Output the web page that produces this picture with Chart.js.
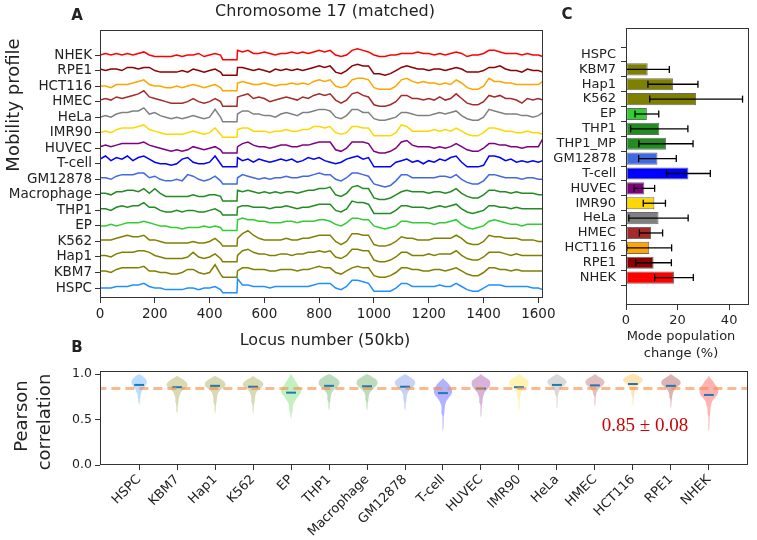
<!DOCTYPE html>
<html>
<head>
<meta charset="utf-8">
<script src="https://cdn.jsdelivr.net/npm/chart.js@4.4.1/dist/chart.umd.min.js"></script>
<style>
body{margin:0;background:#fff;width:757px;height:540px;position:relative;overflow:hidden;font-family:'DejaVu Sans',sans-serif;color:#222}
canvas{position:absolute}
.t{position:absolute;white-space:nowrap;transform:translate(-50%,-50%);line-height:1}
.rot{transform:translate(-50%,-50%) rotate(-90deg)}
.lbl{font-weight:bold;font-size:15px}
</style>
</head>
<body>
<canvas id="chartA" width="560" height="345" style="left:0;top:0"></canvas>
<canvas id="chartC" width="212" height="330" style="left:545px;top:0"></canvas>
<canvas id="chartB" width="757" height="185" style="left:0;top:355px"></canvas>

<div class="t lbl" style="left:77px;top:15px">A</div>
<div class="t lbl" style="left:567px;top:14px">C</div>
<div class="t lbl" style="left:77px;top:347px">B</div>
<div class="t" style="left:325px;top:11px;font-size:16px">Chromosome 17 (matched)</div>
<div class="t rot" style="left:13px;top:105px;font-size:18px">Mobility profile</div>
<div class="t" style="left:325px;top:340px;font-size:16px">Locus number (50kb)</div>
<div class="t" style="left:681px;top:335px;font-size:13px">Mode population</div>
<div class="t" style="left:681px;top:352px;font-size:13px">change (%)</div>
<div class="t rot" style="left:21px;top:416px;font-size:18px">Pearson</div>
<div class="t rot" style="left:44px;top:422px;font-size:18px">correlation</div>
<div class="t" style="left:645px;top:424px;font-size:19px;font-family:'Liberation Serif',serif;color:#c00">0.85 &plusmn; 0.08</div>

<script>
// cell types, bottom to top in panel A, left to right in panel B
var cells = ['HSPC','KBM7','Hap1','K562','EP','THP1','Macrophage','GM12878','T-cell','HUVEC','IMR90','HeLa','HMEC','HCT116','RPE1','NHEK'];
var cellColors = ['#1e90ff','#808000','#808000','#808000','#32cd32','#228b22','#228b22','#4169e1','#0000ff','#800080','#ffd700','#808080','#a52a2a','#ffa500','#8b0000','#ff0000'];

// panel A: locus positions and mobility profiles (tenths of the track spacing)
var loci = [0,20,40,60,80,100,120,140,160,180,200,220,240,260,280,300,320,340,360,380,400,420,440,
  448,500,502,
  520,540,560,580,600,620,640,660,680,700,720,740,760,780,800,820,840,860,880,900,920,940,960,980,
  1000,1020,1040,1060,1080,1100,1120,1140,1160,1180,1200,1220,1240,1260,1280,1300,1320,1340,1360,1380,
  1400,1420,1440,1460,1480,1500,1520,1540,1560,1580,1600,1616];

var profHSPC = [0,0,0,1,1,1,2,2,3,1,0,0,-1,-1,-1,-1,0,0,-1,0,0,1,-1, -3,-3, 6,
  2,2,1,1,1, 0,1,1,1,1, 1,1,1,2,3, 3,3,0,-1,1, 5,5,4,3,-2, -2,-2,-2,0,3, 3,1,1,1,1, 1,2,1,1,3, 1,-1,-2,-2,0, 2,2,2,1,1, 1,1,1,0,0, -1];
var profKBM7 = [1,1,0,2,3,3,3,3,4,1,1,0,0,-1,-1,0,2,2,0,-1,0,5,-1, -3,-3, 1,
  3,3,2,2,2, 1,1,2,2,2, 1,2,2,3,4, 3,3,0,-1,1, 3,4,3,3,-2, -3,-3,-2,0,3, 3,2,2,1,1, 2,2,1,2,3, 1,-1,-2,-2,0, 3,3,2,2,1, 2,1,1,1,1, 1];
var profHap1 = [1,1,0,2,3,3,3,4,4,3,1,0,-1,-1,-1,-1,0,3,0,-1,0,2,-1, -3,-3, 1,
  4,5,3,2,2, 1,1,2,2,1, 2,2,3,3,4, 3,4,0,-1,1, 5,5,4,4,-2, -3,-3,-2,0,3, 3,1,1,1,2, 1,2,2,2,4, 1,-1,-2,-2,0, 3,3,3,2,1, 2,1,1,1,1, 1];
var profK562 = [1,1,1,2,3,4,3,3,4,1,1,0,-1,-1,-1,-1,-1,0,-1,-1,0,2,-1, -3,-3, 2,
  5,7,4,2,1, 1,1,1,2,1, 1,2,2,3,4, 4,4,0,-2,0, 5,5,4,4,-2, -3,-3,-2,0,3, 2,2,1,1,1, 2,2,2,2,4, 2,-1,-2,-2,0, 4,3,3,2,2, 2,1,1,1,0, 0];
var profEP = [0,0,1,0,1,2,2,2,3,2,1,0,0,-1,-1,-2,-1,-1,-1,0,-1,0,-1, -3,-3, 4,
  5,4,4,3,3, 2,2,2,3,3, 2,3,3,3,4, 4,3,1,0,2, 5,5,4,4,0, -1,-2,-1,0,3, 3,2,2,2,2, 1,2,2,3,4, 1,-1,-2,-1,0, 3,4,3,2,1, 1,0,1,1,1, 1];
var profTHP1 = [1,1,0,2,3,2,3,3,5,2,2,0,-1,-1,0,-1,0,0,-1,-1,0,1,-1, -3,-3, 2,
  3,3,2,2,2, 1,2,2,3,2, 1,2,2,3,4, 4,4,0,-1,1, 6,5,5,4,-2, -2,-2,-2,0,3, 3,2,2,2,1, 2,3,2,3,4, 1,-1,-2,-1,0, 3,3,2,2,1, 2,1,1,1,1, 1];
var profMacrophage = [1,1,0,2,2,3,3,2,4,1,4,1,-1,-1,-1,-1,-1,0,-1,-1,0,0,-1, -4,-4, 3,
  2,3,2,1,2, 1,2,1,2,2, 1,2,3,3,4, 4,5,0,-1,1, 5,6,4,4,-2, -3,-3,-2,0,2, 3,2,2,2,1, 2,2,1,2,4, 1,-1,-2,-2,0, 3,3,2,2,1, 2,1,1,1,0, 0];
var profGM12878 = [1,1,0,2,3,3,3,4,4,1,2,0,-1,-1,0,-1,3,2,0,-1,0,2,-1, -3,-3, 1,
  3,2,1,0,1, 0,1,1,2,1, 1,2,2,3,4, 3,3,0,-1,1, 4,4,3,2,-3, -4,-5,-4,-1,3, 3,1,1,1,1, 1,2,2,1,3, 0,-2,-3,-3,-1, 3,3,2,1,1, 1,0,1,1,0, 0];
var profTcell = [3,5,2,4,3,5,2,4,5,3,1,0,0,-1,0,3,4,1,0,0,1,5,0, -2,-2, 4,
  2,3,1,3,2, 1,2,3,2,3, 1,2,4,3,4, 2,1,0,1,3, 4,5,3,4,-2, -2,-2,-2,1,2, 3,1,2,0,2, 1,3,2,4,5, 1,-2,-2,-2,-1, 5,5,4,2,3, 1,2,1,2,1, 2];
var profHUVEC = [1,2,1,2,3,3,3,3,4,2,1,0,-1,-2,-1,-2,-1,1,0,-1,0,1,-1, -3,-3, 1,
  3,4,2,1,1, 0,1,2,2,1, 1,2,2,3,4, 4,4,-1,-2,0, 4,4,4,3,-2, -3,-3,-2,0,4, 5,2,1,1,1, 0,1,0,1,3, 1,-1,-2,-2,0, 3,3,2,2,1, 1,0,1,1,1, 6];
var profIMR90 = [0,1,0,2,3,3,3,4,5,2,1,0,-1,-1,-1,-1,0,1,0,-1,0,3,-1, -3,-3, 2,
  3,3,1,1,1, 0,1,1,2,1, 1,2,2,4,4, 3,4,0,-1,0, 4,4,3,3,-2, -2,-2,-2,0,5, 4,1,1,1,1, 2,1,2,1,3, 1,-1,-2,-2,0, 3,3,2,1,1, 0,0,1,0,0, -1];
var profHeLa = [0,1,0,2,3,3,4,4,6,2,3,1,0,-1,0,-1,0,1,0,-1,0,5,0, -3,-3, 2,
  4,4,2,2,1, 1,0,2,3,2, 1,3,3,4,5, 5,4,0,-1,1, 5,5,3,3,-1, -2,-2,-1,0,3, 3,2,1,1,1, 2,3,2,3,4, 1,-1,-2,-2,0, 5,4,3,2,2, 2,1,1,0,1, 3];
var profHMEC = [1,2,1,3,2,3,4,5,7,3,2,1,0,-1,-1,-1,0,2,0,-1,0,2,0, -3,-3, 3,
  4,5,2,3,2, 0,1,2,3,2, 1,3,2,4,5, 4,5,1,-1,1, 5,6,4,3,-2, -3,-3,-2,0,4, 4,2,2,1,2, 1,3,1,2,5, 2,-1,-2,-2,0, 4,3,4,2,2, 1,-1,2,1,2, 1];
var profHCT116 = [0,0,-1,1,1,1,2,3,4,1,0,0,-1,-1,0,-1,0,1,0,-1,0,1,-1, -3,-3, 2,
  3,2,1,1,2, 1,0,1,1,2, 1,2,1,3,4, 3,4,0,-1,0, 4,5,5,4,-1, -2,-2,-2,0,4, 5,3,2,3,2, 2,1,2,1,4, 2,-1,-2,-2,0, 5,3,3,2,2, 1,1,1,1,1, 3];
var profRPE1 = [1,0,1,1,0,2,2,1,2,2,0,-1,-1,-1,-1,0,-1,1,0,-1,0,1,-1, -3,-3, 2,
  2,1,0,1,0, -1,1,0,1,0, 1,0,1,2,3, 2,3,-1,-2,0, 3,4,3,3,-2, -2,-3,-2,0,2, 3,2,1,1,0, 1,1,0,1,2, 1,-1,-1,-1,0, 2,2,3,1,0, 0,-1,1,0,0, -1];
var profNHEK = [0,1,0,1,0,1,0,1,2,0,-1,-1,-1,-1,0,-1,0,0,1,-1,0,1,0, -3,-3, 3,
  2,3,1,1,2, 1,0,1,1,2, 1,2,1,2,3, 2,3,0,-1,0, 3,4,3,2,0, -1,-1,0,0,1, 1,1,2,1,1, 0,1,0,1,2, 1,-1,0,0,1, 3,3,2,1,1, 1,0,1,0,0, -1];
var profiles = [profHSPC, profKBM7, profHap1, profK562, profEP, profTHP1, profMacrophage, profGM12878,
  profTcell, profHUVEC, profIMR90, profHeLa, profHMEC, profHCT116, profRPE1, profNHEK];
var locusTicks = [0,200,400,600,800,1000,1200,1400,1600];

// panel C: mode population change (%), top to bottom
var modeCells = ['HSPC','KBM7','Hap1','K562','EP','THP1','THP1_MP','GM12878','T-cell','HUVEC','IMR90','HeLa','HMEC','HCT116','RPE1','NHEK'];
var modeChange = [0, 8.4, 18.2, 27.2, 8.1, 12.9, 15.5, 12.2, 24.2, 7.1, 11.0, 12.6, 9.7, 9.0, 10.7, 18.6];
var modeErr = [0, 8.4, 9.7, 18.0, 4.6, 11.1, 10.5, 7.3, 8.5, 4.0, 4.3, 11.5, 4.5, 8.7, 6.9, 7.5];
var modeTicks = [0, 20, 40];

// panel B: Pearson correlation violins
var corrMean = [0.88, 0.855, 0.87, 0.86, 0.795, 0.87, 0.865, 0.86, 0.79, 0.84, 0.855, 0.88, 0.875, 0.89, 0.87, 0.77];
var corrOverall = 0.84;
var corrTicks = [0, 0.5, 1.0];
var violinLevels = [1.00,0.98,0.96,0.94,0.92,0.90,0.88,0.86,0.84,0.82,0.80,0.77,0.74,0.71,0.68,0.65,0.62,0.59,0.56,0.53,0.50,0.46,0.42,0.38];
// half widths, hundredths of a category slot
var violinWidth = [
  [0,8,14,18,20,20,18,15,11,8,6,4,3,2,1,0,0,0,0,0,0,0,0,0],
  [0,0,8,16,22,26,28,26,20,14,10,7,5,4,3,2,2,1,0,0,0,0,0,0],
  [0,0,9,17,23,27,28,25,19,13,9,6,5,4,3,2,1,1,0,0,0,0,0,0],
  [0,0,6,15,22,26,27,24,18,12,9,6,5,4,3,2,1,1,0,0,0,0,0,0],
  [0,3,6,9,12,15,18,22,25,27,26,22,16,11,7,5,4,3,2,1,0,0,0,0],
  [0,10,18,24,27,28,26,22,16,11,8,5,4,3,2,1,1,0,0,0,0,0,0,0],
  [0,9,17,24,27,28,26,22,17,12,8,5,4,3,2,1,1,0,0,0,0,0,0,0],
  [0,8,16,22,26,27,25,21,16,11,8,5,4,3,2,2,1,0,0,0,0,0,0,0],
  [0,0,0,3,8,13,17,20,22,24,24,21,15,10,7,5,4,3,3,2,2,1,1,0],
  [0,5,13,20,24,25,24,22,19,14,10,7,5,4,3,2,2,1,1,0,0,0,0,0],
  [0,6,14,21,25,26,24,19,13,9,6,4,3,2,2,1,1,0,0,0,0,0,0,0],
  [0,8,16,22,25,25,21,15,10,7,5,3,2,2,1,1,0,0,0,0,0,0,0,0],
  [0,6,15,22,25,25,22,16,11,7,5,3,2,2,1,0,0,0,0,0,0,0,0,0],
  [3,14,22,26,25,20,14,10,7,5,4,3,2,1,1,0,0,0,0,0,0,0,0,0],
  [0,6,14,21,25,26,23,17,12,8,6,4,3,2,1,1,0,0,0,0,0,0,0,0],
  [0,0,3,7,11,14,17,21,24,25,25,22,16,10,7,5,4,3,3,2,2,1,1,0]
];

Chart.defaults.font.family = "'DejaVu Sans', sans-serif";
Chart.defaults.color = '#222';

var framePlugin = {
  id: 'frame',
  afterDatasetsDraw: function(chart) {
    var a = chart.chartArea, c = chart.ctx;
    c.save();
    c.strokeStyle = '#333';
    c.lineWidth = 1;
    c.strokeRect(Math.round(a.left) + 0.5, Math.round(a.top) + 0.5, Math.round(a.right - a.left) - 1, Math.round(a.bottom - a.top) - 1);
    c.restore();
  }
};

function fixW(w) { return function(s) { s.width = w; }; }
function fixH(h) { return function(s) { s.height = h; }; }
function setTicks(vals) { return function(s) { s.ticks = vals.map(function(v) { return {value: v}; }); }; }
function rgba(hex, a) {
  var n = parseInt(hex.slice(1), 16);
  return 'rgba(' + (n >> 16) + ',' + ((n >> 8) & 255) + ',' + (n & 255) + ',' + a + ')';
}
var idx = cells.map(function(c, i) { return i; });
var baseOpts = {
  responsive: false, animation: false, events: [],
  plugins: {legend: {display: false}, tooltip: {enabled: false}}
};
function tickGrid(len) {
  return {display: true, drawOnChartArea: false, drawTicks: true, tickLength: len, color: '#333'};
}

// ---- panel A
var setsA = profiles.map(function(p, k) {
  return {
    data: loci.map(function(x, i) { return {x: x, y: k + p[i] / 10}; }),
    borderColor: cellColors[k], borderWidth: 1.5, pointRadius: 0, fill: false, tension: 0
  };
});
new Chart(document.getElementById('chartA'), {
  type: 'line',
  data: {datasets: setsA},
  options: Object.assign({}, baseOpts, {
    layout: {padding: {top: 30, right: 17, left: 0, bottom: 0}},
    scales: {
      x: {type: 'linear', min: 0, max: 1617, afterBuildTicks: setTicks(locusTicks), afterFit: fixH(47),
          grid: tickGrid(5), border: {display: false},
          ticks: {autoSkip: false, maxRotation: 0, padding: 3, font: {size: 13.5},
                  callback: function(v) { return String(v); }}},
      y: {type: 'linear', min: -0.64, max: 16.61, afterBuildTicks: setTicks(idx), afterFit: fixW(100),
          grid: tickGrid(5), border: {display: false},
          ticks: {autoSkip: false, padding: 3, font: {size: 13.5}, callback: function(v) { return cells[v]; }}}
    }
  }),
  plugins: [framePlugin]
});

// ---- panel C
var setsC = [{
  type: 'bar', indexAxis: 'y',
  data: modeCells.map(function(c, i) { return {x: modeChange[i], y: i}; }),
  backgroundColor: cellColors, borderColor: 'rgba(70,70,70,0.8)', borderWidth: 1, borderSkipped: false,
  barPercentage: 0.82, categoryPercentage: 1, order: 1
}];
modeCells.forEach(function(c, i) {
  if (modeErr[i] <= 0) return;
  setsC.push({
    type: 'line', indexAxis: 'y',
    data: [{x: modeChange[i] - modeErr[i], y: i}, {x: modeChange[i] + modeErr[i], y: i}],
    borderColor: '#000', borderWidth: 1.3, pointStyle: 'line', rotation: 90, pointRadius: 3.5,
    pointBorderColor: '#000', pointBorderWidth: 1.3, order: 0
  });
});
new Chart(document.getElementById('chartC'), {
  type: 'bar',
  data: {datasets: setsC},
  options: Object.assign({}, baseOpts, {
    indexAxis: 'y',
    layout: {padding: {top: 28, right: 8, left: 0, bottom: 0}},
    scales: {
      x: {type: 'linear', position: 'bottom', min: 0, max: 47.7, afterBuildTicks: setTicks(modeTicks), afterFit: fixH(25),
          grid: tickGrid(5), border: {display: false},
          ticks: {autoSkip: false, maxRotation: 0, padding: 3, font: {size: 13}}},
      y: {type: 'linear', position: 'left', reverse: true, min: -1.2, max: 16.26,
          afterBuildTicks: setTicks(idx), afterFit: fixW(81),
          grid: tickGrid(5), border: {display: false},
          ticks: {autoSkip: false, padding: 5, font: {size: 13}, callback: function(v) { return modeCells[v]; }}}
    }
  }),
  plugins: [framePlugin]
});

// ---- panel B
var setsB = [{
  data: [{x: -1.1, y: corrOverall}, {x: 16.1, y: corrOverall}],
  borderColor: 'rgba(245,140,70,0.6)', borderWidth: 3, borderDash: [9, 5], pointRadius: 0, fill: false, order: 0
}];
cells.forEach(function(c, i) {
  var w = violinWidth[i];
  var first = -1, last = -1;
  for (var j = 0; j < w.length; j++) { if (w[j] > 0) { if (first < 0) first = j; last = j; } }
  first = Math.max(first - 1, 0);
  last = Math.min(last + 1, w.length - 1);
  var right = [], left = [];
  for (var j2 = first; j2 <= last; j2++) {
    right.push({x: i + w[j2] / 100, y: violinLevels[j2]});
    left.unshift({x: i - w[j2] / 100, y: violinLevels[j2]});
  }
  setsB.push({
    data: right.concat(left), fill: 'shape', backgroundColor: rgba(cellColors[i], 0.3),
    borderColor: 'rgba(0,0,0,0)', borderWidth: 1, pointRadius: 0, tension: 0, order: 2
  });
  setsB.push({
    data: [{x: i - 0.13, y: corrMean[i]}, {x: i + 0.13, y: corrMean[i]}],
    borderColor: '#1f77b4', borderWidth: 2, pointRadius: 0, fill: false, order: 1
  });
});
new Chart(document.getElementById('chartB'), {
  type: 'line',
  data: {datasets: setsB},
  options: Object.assign({}, baseOpts, {
    layout: {padding: {top: 16, right: 9, left: 0, bottom: 0}},
    scales: {
      x: {type: 'linear', min: -1.03, max: 16.03, afterBuildTicks: setTicks(idx), afterFit: fixH(75),
          grid: tickGrid(5), border: {display: false},
          ticks: {autoSkip: false, minRotation: 45, maxRotation: 45, padding: 2, font: {size: 13},
                  callback: function(v) { return cells[v]; }}},
      y: {type: 'linear', min: 0, max: 1.033, afterBuildTicks: setTicks(corrTicks), afterFit: fixW(100),
          grid: tickGrid(5), border: {display: false},
          ticks: {autoSkip: false, padding: 3, font: {size: 12.5}, callback: function(v) { return v.toFixed(1); }}}
    }
  }),
  plugins: [framePlugin]
});
</script>
</body>
</html>
